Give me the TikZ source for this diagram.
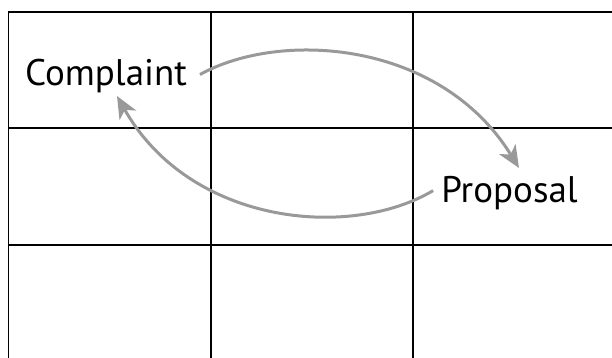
\documentclass[tikz,border=0pt]{standalone}
\usepackage{fontspec}
\setmainfont{PT Sans}
\usetikzlibrary{arrows.meta}
\definecolor{arrowgray}{HTML}{999999}
\tikzset{
  gridline/.style={line width=1.6pt, black},
  label/.style={font=\fontsize{37}{37}\selectfont, inner sep=0pt, anchor=base},
  flow/.style={line width=3pt, arrowgray, -{Stealth[length=22pt,width=19pt,inset=6pt]}}
}
\begin{document}
\begin{tikzpicture}[x=1pt,y=-1pt]
\useasboundingbox (0,0) rectangle (612,358);
% grid
\draw[gridline] (8.6,358) -- (8.6,12) -- (612,12);
\draw[gridline] (211,12) -- (211,358);
\draw[gridline] (413,12) -- (413,358);
\draw[gridline] (8.6,128) -- (612,128);
\draw[gridline] (8.6,245) -- (612,245);
% labels
\node[label] (complaint) at (106,86) {Complaint};
\node[label] (proposal) at (509.5,202) {Proposal};
% arrows
\coordinate (s1) at ([xshift=13pt,yshift=2pt]complaint.east);
\coordinate (e1) at (519,168);
\coordinate (s2) at ([xshift=-8pt,yshift=2pt]proposal.west);
\coordinate (e2) at (117,96);
\draw[flow] (s1) .. controls (280,30) and (440,40) .. (e1);
\draw[flow] (s2) .. controls (350,240) and (190,225) .. (e2);
\end{tikzpicture}
\end{document}
